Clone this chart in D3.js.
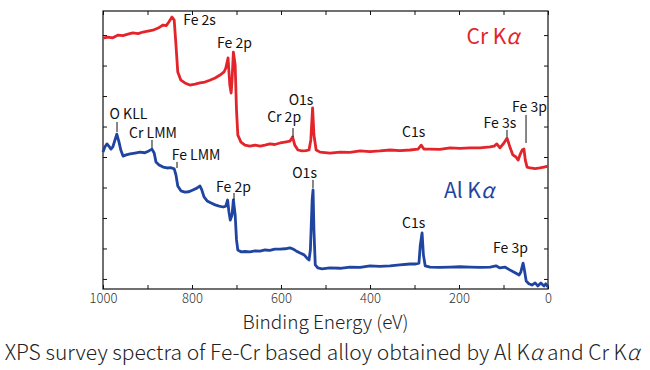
<!DOCTYPE html>
<html>
<head>
<meta charset="utf-8">
<script src="https://cdn.jsdelivr.net/npm/d3@7"></script>
<style>
  body { margin: 0; background: #fff; }
  text { font-family: "Noto Sans CJK JP", "Noto Sans", sans-serif; }
</style>
</head>
<body>
<svg width="650" height="370"></svg>
<script>
// spectra: binding energy (eV) / intensity (arb. units, tick = 10)
var crEnergy = [1000, 989, 978, 966, 955, 944, 933, 921, 910, 899, 888, 876, 865, 858, 852, 845, 840, 836, 832, 825, 816, 805, 793, 782, 771, 760, 748, 737, 728, 724, 719, 715, 712, 710, 707, 703, 700, 697, 690, 681, 670, 658, 647, 636, 625, 614, 602, 591, 580, 574, 569, 562, 553, 544, 537, 533, 529, 526, 521, 512, 490, 467, 445, 422, 400, 378, 355, 333, 310, 292, 285, 279, 265, 243, 220, 198, 175, 153, 130, 121, 115, 108, 99, 92, 85, 79, 72, 67, 63, 58, 54, 51, 47, 40, 29, 18, 9, 0];
var crIntensity = [79.0, 79.3, 79.1, 80.0, 79.8, 80.3, 80.7, 80.5, 81.0, 81.3, 81.6, 82.3, 83.3, 83.1, 84.3, 85.9, 84.9, 76.7, 67.9, 65.2, 64.3, 63.6, 63.9, 64.3, 64.6, 65.2, 65.9, 66.9, 67.9, 69.2, 72.5, 63.6, 61.0, 65.2, 74.4, 70.2, 55.4, 47.2, 44.9, 43.9, 43.6, 43.9, 43.6, 43.9, 44.3, 44.1, 44.6, 44.9, 45.2, 46.6, 43.9, 42.3, 42.0, 42.1, 42.3, 45.6, 56.1, 47.2, 42.3, 41.6, 41.3, 41.6, 41.5, 42.0, 41.8, 42.0, 42.3, 42.1, 42.3, 42.6, 43.9, 42.6, 42.6, 42.5, 43.0, 42.8, 43.0, 43.0, 43.3, 43.6, 44.3, 43.0, 44.6, 46.2, 43.0, 40.7, 40.0, 39.0, 40.7, 42.3, 42.6, 39.0, 36.7, 36.4, 36.2, 36.4, 36.7, 37.0];

var alEnergy = [1000, 996, 991, 987, 982, 978, 973, 969, 964, 960, 955, 948, 939, 928, 917, 906, 897, 890, 885, 881, 874, 865, 856, 847, 840, 836, 832, 825, 816, 807, 798, 789, 782, 778, 773, 766, 757, 748, 739, 730, 724, 720, 717, 714, 710, 707, 703, 700, 697, 690, 681, 670, 658, 647, 636, 625, 614, 602, 591, 580, 573, 566, 557, 548, 542, 537, 534, 530, 528, 526, 523, 517, 508, 490, 467, 445, 422, 400, 378, 355, 333, 310, 297, 290, 287, 283, 280, 276, 265, 243, 220, 198, 175, 153, 130, 117, 108, 97, 85, 74, 65, 61, 56, 53, 49, 43, 36, 29, 23, 16, 9, 5, 0];
var alIntensity = [41.6, 43.3, 44.3, 43.6, 42.6, 43.3, 45.6, 47.5, 44.9, 42.3, 40.3, 40.7, 41.0, 41.3, 41.6, 41.4, 42.0, 42.6, 41.3, 38.4, 37.4, 36.7, 36.4, 36.5, 36.1, 34.1, 30.5, 28.9, 28.5, 28.6, 29.2, 29.8, 30.5, 29.2, 26.9, 25.6, 24.9, 24.3, 23.9, 23.6, 23.9, 25.9, 22.0, 19.3, 21.0, 25.9, 21.0, 12.8, 9.5, 8.9, 9.0, 8.9, 9.2, 9.1, 9.5, 9.4, 9.8, 9.8, 9.9, 10.2, 9.8, 9.2, 8.5, 7.9, 6.9, 6.2, 9.5, 25.9, 29.2, 16.1, 4.6, 3.6, 3.3, 3.6, 3.5, 3.9, 3.8, 4.3, 4.1, 4.3, 4.6, 4.9, 4.9, 5.2, 11.1, 15.1, 7.9, 4.3, 3.9, 3.8, 3.9, 4.0, 3.9, 3.8, 3.9, 4.3, 3.6, 3.9, 2.9, 2.0, 1.3, 2.3, 5.2, 2.9, -0.7, -1.6, -2.0, -1.3, -2.3, -1.3, -2.3, -1.6, -2.6];

// peak labels: text, energy of label centre, intensity of baseline
var crLabels = [["Fe 2s", 783, 83.3], ["Fe 2p", 704.5, 75.7], ["Cr 2p", 593, 51.5], ["O1s", 555, 57.0], ["C1s", 302, 46.6], ["Fe 3s", 108, 49.5], ["Fe 3p", 41.6, 54.8]];
var alLabels = [["O KLL", 942.7, 52.5], ["Cr LMM", 887.6, 46.2], ["Fe LMM", 791, 39.0], ["Fe 2p", 706.7, 28.5], ["O1s", 547, 33.1], ["C1s", 302, 16.7], ["Fe 3p", 84.3, 8.5]];
// leader lines: energy, from intensity, to intensity
var crLeaders = [[573, 49.5, 46.6], [92.1, 48.9, 46.6], [49.4, 53.8, 44.6]];
var alLeaders = [[968.5, 51.5, 48.2], [889.9, 45.6, 43.0], [833.7, 38.4, 36.4], [705.6, 28.2, 25.9], [528.1, 32.5, 29.8]];

var xTicks = [1000, 900, 800, 700, 600, 500, 400, 300, 200, 100, 0];
var xTickLabels = [1000, 800, 600, 400, 200, 0];
var yTicks = [0, 10, 20, 30, 40, 50, 60, 70, 80];

var svg = d3.select("svg");
var plotLeft = 103, plotRight = 548, plotTop = 11, plotBottom = 289;

var x = d3.scaleLinear().domain([1000, 0]).range([plotLeft, plotRight]);
var y = d3.scaleLinear().domain([-3.3, 87.9]).range([plotBottom, plotTop]);

var red = "#e3242b", blue = "#1f45a0";

// axes, ticks pointing inward
svg.append("g").attr("transform", "translate(0," + plotBottom + ")")
  .call(d3.axisBottom(x).tickValues(xTicks).tickSizeInner(-4).tickSizeOuter(0)
    .tickFormat(function(d) { return xTickLabels.indexOf(d) >= 0 ? d : ""; }))
  .call(function(g) {
    g.select(".domain").remove();
    g.selectAll("text").attr("y", 5).attr("dy", "0.71em")
      .style("font-size", "13px").style("font-weight", 300).attr("fill", "#333");
  });
svg.append("g").attr("transform", "translate(0," + plotTop + ")")
  .call(d3.axisTop(x).tickValues(xTicks).tickSizeInner(-4).tickSizeOuter(0).tickFormat(""))
  .call(function(g) { g.select(".domain").remove(); });
svg.append("g").attr("transform", "translate(" + plotLeft + ",0)")
  .call(d3.axisLeft(y).tickValues(yTicks).tickSizeInner(-4).tickSizeOuter(0).tickFormat(""))
  .call(function(g) { g.select(".domain").remove(); });
svg.append("g").attr("transform", "translate(" + plotRight + ",0)")
  .call(d3.axisRight(y).tickValues(yTicks).tickSizeInner(-4).tickSizeOuter(0).tickFormat(""))
  .call(function(g) { g.select(".domain").remove(); });
svg.selectAll(".tick line").attr("stroke", "#111");

svg.append("rect").attr("x", plotLeft).attr("y", plotTop)
  .attr("width", plotRight - plotLeft).attr("height", plotBottom - plotTop)
  .attr("fill", "none").attr("stroke", "#111").attr("stroke-width", 1.2);

var line = d3.line().x(function(d) { return x(d[0]); }).y(function(d) { return y(d[1]); });

function drawSpectrum(energy, intensity, color) {
  svg.append("path")
    .datum(d3.zip(energy, intensity))
    .attr("d", line)
    .attr("fill", "none")
    .attr("stroke", color)
    .attr("stroke-width", 2.8)
    .attr("stroke-linejoin", "round");
}
drawSpectrum(crEnergy, crIntensity, red);
drawSpectrum(alEnergy, alIntensity, blue);

function drawLabels(labels, leaders) {
  svg.append("g").selectAll("text").data(labels).enter().append("text")
    .attr("x", function(d) { return x(d[1]); })
    .attr("y", function(d) { return y(d[2]); })
    .attr("text-anchor", "middle")
    .style("font-size", "14px")
    .attr("fill", "#111")
    .text(function(d) { return d[0]; });
  svg.append("g").selectAll("line").data(leaders).enter().append("line")
    .attr("x1", function(d) { return x(d[0]); })
    .attr("x2", function(d) { return x(d[0]); })
    .attr("y1", function(d) { return y(d[1]); })
    .attr("y2", function(d) { return y(d[2]); })
    .attr("stroke", "#111").attr("stroke-width", 1);
}
drawLabels(crLabels, crLeaders);
drawLabels(alLabels, alLeaders);

// source labels
svg.append("text").attr("x", x(123.6)).attr("y", 43.5).attr("text-anchor", "middle")
  .style("font-size", "21px").attr("fill", red)
  .html('Cr K<tspan font-style="italic">α</tspan>');
svg.append("text").attr("x", x(177.5)).attr("y", 198).attr("text-anchor", "middle")
  .style("font-size", "21px").attr("fill", blue)
  .html('Al K<tspan font-style="italic">α</tspan>');

svg.append("text").attr("x", (plotLeft + plotRight) / 2).attr("y", 329).attr("text-anchor", "middle")
  .style("font-size", "19px").style("font-weight", 300).attr("fill", "#222")
  .text("Binding Energy (eV)");

svg.append("text").attr("x", 322).attr("y", 360).attr("text-anchor", "middle")
  .style("font-size", "21px").style("font-weight", 300).attr("fill", "#222")
  .html('XPS survey spectra of Fe-Cr based alloy obtained by Al K<tspan font-style="italic">α</tspan> and Cr K<tspan font-style="italic">α</tspan>');
</script>
</body>
</html>
